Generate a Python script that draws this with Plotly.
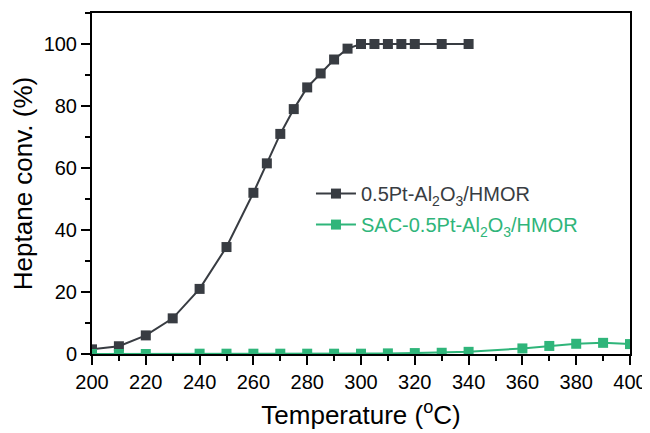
import plotly.graph_objects as go

temp_a = [200, 210, 220, 230, 240, 250, 260, 265, 270, 275, 280, 285, 290, 295, 300, 305, 310, 315, 320, 330, 340]
conv_a = [1.5, 2.5, 6, 11.5, 21, 34.5, 52, 61.5, 71, 79, 86, 90.5, 95, 98.5, 100, 100, 100, 100, 100, 100, 100]

temp_b = [200, 210, 220, 240, 250, 260, 270, 280, 290, 300, 310, 320, 330, 340, 360, 370, 380, 390, 400]
conv_b = [0, 0, 0, 0.1, 0.1, 0.1, 0.1, 0.1, 0.1, 0.1, 0.2, 0.3, 0.4, 0.7, 1.8, 2.6, 3.3, 3.6, 3.2]

name_a = "0.5Pt-Al<sub>2</sub>O<sub>3</sub>/HMOR"
name_b = "SAC-0.5Pt-Al<sub>2</sub>O<sub>3</sub>/HMOR"

col_a = "#383c42"
col_b = "#2fb57a"

font_fam = "Liberation Sans, Arial"

fig = go.Figure()
fig.add_trace(go.Scatter(x=temp_a, y=conv_a, mode="lines+markers",
                         name=f'<span style="color:{col_a}">{name_a}</span>',
                         legendgroup="a",
                         line=dict(color=col_a, width=2),
                         marker=dict(symbol="square", size=10, color=col_a)))
fig.add_trace(go.Scatter(x=temp_b, y=conv_b, mode="lines+markers",
                         name=f'<span style="color:{col_b}">{name_b}</span>',
                         legendgroup="b",
                         line=dict(color=col_b, width=2),
                         marker=dict(symbol="square", size=10, color=col_b)))

axis_common = dict(showline=True, linecolor="black", linewidth=2, mirror=True,
                   ticks="outside", ticklen=9, tickwidth=2, tickcolor="black",
                   showgrid=False, zeroline=False, automargin=False,
                   tickfont=dict(family=font_fam, size=20, color="black"))

fig.update_xaxes(range=[200, 400], dtick=20,
                 minor=dict(dtick=10, ticks="outside", ticklen=5, tickcolor="black", tickwidth=2),
                 title=dict(text="Temperature (<sup>o</sup>C)", font=dict(family=font_fam, size=26, color="black"), standoff=14),
                 **axis_common)
fig.update_yaxes(range=[0, 110], tickvals=[0, 20, 40, 60, 80, 100],
                 minor=dict(tickvals=[10, 30, 50, 70, 90, 110], ticks="outside", ticklen=5, tickcolor="black", tickwidth=2),
                 title=dict(text="Heptane conv. (%)", font=dict(family=font_fam, size=26, color="black"), standoff=10),
                 **axis_common)

fig.update_layout(width=642, height=425,
                  margin=dict(l=84, r=20, t=5, b=79),
                  plot_bgcolor="white", paper_bgcolor="white",
                  showlegend=True,
                  legend=dict(x=0.407, y=0.425, xanchor="left", yanchor="middle",
                              bgcolor="rgba(0,0,0,0)",
                              font=dict(family=font_fam, size=20),
                              itemwidth=40, tracegroupgap=2))

fig.write_html("out.html")
